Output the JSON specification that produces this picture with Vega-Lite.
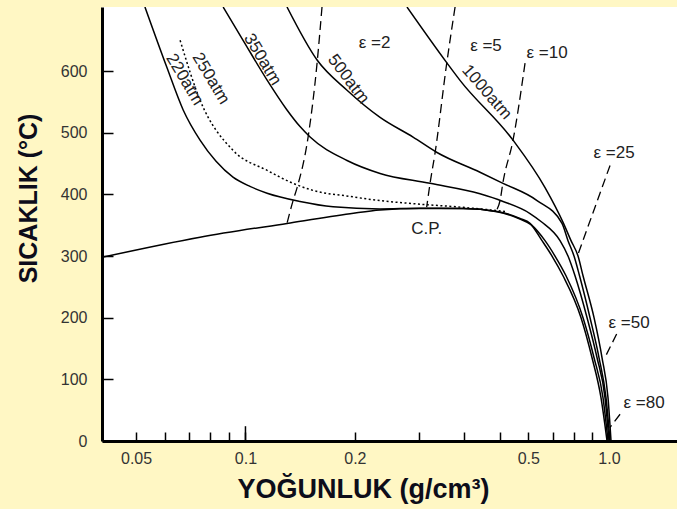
{
  "$schema": "https://vega.github.io/schema/vega-lite/v6.json",
  "width": 575,
  "height": 434,
  "autosize": "none",
  "padding": {"left": 102, "top": 7, "right": 0, "bottom": 68},
  "background": "#fff7c4",
  "config": {
    "view": {"fill": "white", "stroke": null},
    "font": "Liberation Sans",
    "axis": {"grid": false}
  },
  "datasets": {
    "curves": [
      {"s": "sat", "i": 0, "d": 0.0403, "t": 298},
      {"s": "sat", "i": 1, "d": 0.075, "t": 330.6},
      {"s": "sat", "i": 2, "d": 0.1301, "t": 353},
      {"s": "sat", "i": 3, "d": 0.194, "t": 368.6},
      {"s": "sat", "i": 4, "d": 0.2346, "t": 374.8},
      {"s": "sat", "i": 5, "d": 0.302, "t": 377.2},
      {"s": "sat", "i": 6, "d": 0.3969, "t": 377},
      {"s": "sat", "i": 7, "d": 0.4922, "t": 372.4},
      {"s": "sat", "i": 8, "d": 0.5693, "t": 361},
      {"s": "sat", "i": 9, "d": 0.6065, "t": 353},
      {"s": "sat", "i": 10, "d": 0.6544, "t": 325},
      {"s": "sat", "i": 11, "d": 0.6972, "t": 300},
      {"s": "sat", "i": 12, "d": 0.7475, "t": 268},
      {"s": "sat", "i": 13, "d": 0.8379, "t": 200},
      {"s": "sat", "i": 14, "d": 0.8984, "t": 135},
      {"s": "sat", "i": 15, "d": 0.9511, "t": 70},
      {"s": "sat", "i": 16, "d": 0.988, "t": 0},

      {"s": "220atm", "i": 0, "d": 0.0529, "t": 704},
      {"s": "220atm", "i": 1, "d": 0.0607, "t": 607},
      {"s": "220atm", "i": 2, "d": 0.0674, "t": 537},
      {"s": "220atm", "i": 3, "d": 0.075, "t": 488},
      {"s": "220atm", "i": 4, "d": 0.083, "t": 453.7},
      {"s": "220atm", "i": 5, "d": 0.0924, "t": 428},
      {"s": "220atm", "i": 6, "d": 0.1029, "t": 413},
      {"s": "220atm", "i": 7, "d": 0.1147, "t": 402},
      {"s": "220atm", "i": 8, "d": 0.1413, "t": 388.6},
      {"s": "220atm", "i": 9, "d": 0.1742, "t": 380},
      {"s": "220atm", "i": 10, "d": 0.2346, "t": 376.5},
      {"s": "220atm", "i": 11, "d": 0.302, "t": 377.5},
      {"s": "220atm", "i": 12, "d": 0.3969, "t": 377.3},
      {"s": "220atm", "i": 13, "d": 0.4922, "t": 372},
      {"s": "220atm", "i": 14, "d": 0.5693, "t": 360},
      {"s": "220atm", "i": 15, "d": 0.6104, "t": 351},
      {"s": "220atm", "i": 16, "d": 0.667, "t": 325},
      {"s": "220atm", "i": 17, "d": 0.7106, "t": 300},
      {"s": "220atm", "i": 18, "d": 0.7618, "t": 268},
      {"s": "220atm", "i": 19, "d": 0.8486, "t": 200},
      {"s": "220atm", "i": 20, "d": 0.9099, "t": 135},
      {"s": "220atm", "i": 21, "d": 0.9632, "t": 70},
      {"s": "220atm", "i": 22, "d": 0.9942, "t": 0},

      {"s": "350atm", "i": 0, "d": 0.0868, "t": 704},
      {"s": "350atm", "i": 1, "d": 0.0985, "t": 650},
      {"s": "350atm", "i": 2, "d": 0.1147, "t": 585.4},
      {"s": "350atm", "i": 3, "d": 0.1301, "t": 537},
      {"s": "350atm", "i": 4, "d": 0.1413, "t": 510},
      {"s": "350atm", "i": 5, "d": 0.1506, "t": 493},
      {"s": "350atm", "i": 6, "d": 0.1903, "t": 455},
      {"s": "350atm", "i": 7, "d": 0.2346, "t": 434},
      {"s": "350atm", "i": 8, "d": 0.322, "t": 418},
      {"s": "350atm", "i": 9, "d": 0.4418, "t": 401},
      {"s": "350atm", "i": 10, "d": 0.5112, "t": 388.6},
      {"s": "350atm", "i": 11, "d": 0.6065, "t": 369},
      {"s": "350atm", "i": 12, "d": 0.6503, "t": 356},
      {"s": "350atm", "i": 13, "d": 0.7335, "t": 325},
      {"s": "350atm", "i": 14, "d": 0.7716, "t": 300},
      {"s": "350atm", "i": 15, "d": 0.8066, "t": 268},
      {"s": "350atm", "i": 16, "d": 0.8706, "t": 200},
      {"s": "350atm", "i": 17, "d": 0.9274, "t": 135},
      {"s": "350atm", "i": 18, "d": 0.9755, "t": 70},
      {"s": "350atm", "i": 19, "d": 1.0006, "t": 0},

      {"s": "500atm", "i": 0, "d": 0.1301, "t": 704},
      {"s": "500atm", "i": 1, "d": 0.1574, "t": 618},
      {"s": "500atm", "i": 2, "d": 0.1903, "t": 569},
      {"s": "500atm", "i": 3, "d": 0.2346, "t": 525},
      {"s": "500atm", "i": 4, "d": 0.2891, "t": 493},
      {"s": "500atm", "i": 5, "d": 0.3365, "t": 468},
      {"s": "500atm", "i": 6, "d": 0.4418, "t": 436},
      {"s": "500atm", "i": 7, "d": 0.5112, "t": 418},
      {"s": "500atm", "i": 8, "d": 0.6341, "t": 390},
      {"s": "500atm", "i": 9, "d": 0.7428, "t": 353},
      {"s": "500atm", "i": 10, "d": 0.7716, "t": 325},
      {"s": "500atm", "i": 11, "d": 0.8015, "t": 300},
      {"s": "500atm", "i": 12, "d": 0.83, "t": 268},
      {"s": "500atm", "i": 13, "d": 0.887, "t": 200},
      {"s": "500atm", "i": 14, "d": 0.9392, "t": 135},
      {"s": "500atm", "i": 15, "d": 0.9817, "t": 70},
      {"s": "500atm", "i": 16, "d": 1.0069, "t": 0},

      {"s": "1000atm", "i": 0, "d": 0.2782, "t": 704},
      {"s": "1000atm", "i": 1, "d": 0.3586, "t": 613},
      {"s": "1000atm", "i": 2, "d": 0.3893, "t": 585},
      {"s": "1000atm", "i": 3, "d": 0.5446, "t": 488},
      {"s": "1000atm", "i": 4, "d": 0.6671, "t": 411},
      {"s": "1000atm", "i": 5, "d": 0.7499, "t": 353},
      {"s": "1000atm", "i": 6, "d": 0.7864, "t": 325},
      {"s": "1000atm", "i": 7, "d": 0.8222, "t": 300},
      {"s": "1000atm", "i": 8, "d": 0.8486, "t": 268},
      {"s": "1000atm", "i": 9, "d": 0.9099, "t": 200},
      {"s": "1000atm", "i": 10, "d": 0.9572, "t": 135},
      {"s": "1000atm", "i": 11, "d": 0.9942, "t": 70},
      {"s": "1000atm", "i": 12, "d": 1.0133, "t": 0},

      {"s": "250atm", "i": 0, "d": 0.0661, "t": 650},
      {"s": "250atm", "i": 1, "d": 0.075, "t": 553},
      {"s": "250atm", "i": 2, "d": 0.0924, "t": 471.5},
      {"s": "250atm", "i": 3, "d": 0.1147, "t": 439},
      {"s": "250atm", "i": 4, "d": 0.1352, "t": 418},
      {"s": "250atm", "i": 5, "d": 0.1534, "t": 406.5},
      {"s": "250atm", "i": 6, "d": 0.194, "t": 396.7},
      {"s": "250atm", "i": 7, "d": 0.2346, "t": 390},
      {"s": "250atm", "i": 8, "d": 0.2891, "t": 385},
      {"s": "250atm", "i": 9, "d": 0.3969, "t": 379},
      {"s": "250atm", "i": 10, "d": 0.5177, "t": 372.4}
    ],
    "eps": [
      {"e": "2", "i": 0, "d": 0.1624, "t": 704},
      {"e": "2", "i": 1, "d": 0.1574, "t": 613},
      {"e": "2", "i": 2, "d": 0.1487, "t": 493},
      {"e": "2", "i": 3, "d": 0.1387, "t": 411},
      {"e": "2", "i": 4, "d": 0.1352, "t": 390},
      {"e": "2", "i": 5, "d": 0.1301, "t": 353},
      {"e": "5", "i": 0, "d": 0.3773, "t": 704},
      {"e": "5", "i": 1, "d": 0.3579, "t": 613},
      {"e": "5", "i": 2, "d": 0.3323, "t": 467},
      {"e": "5", "i": 3, "d": 0.322, "t": 418},
      {"e": "5", "i": 4, "d": 0.3152, "t": 379.5},
      {"e": "10", "i": 0, "d": 0.5877, "t": 613},
      {"e": "10", "i": 1, "d": 0.5446, "t": 488},
      {"e": "10", "i": 2, "d": 0.5112, "t": 420},
      {"e": "10", "i": 3, "d": 0.5017, "t": 390},
      {"e": "10", "i": 4, "d": 0.4922, "t": 375.6},
      {"e": "25", "i": 0, "d": 1.007, "t": 447},
      {"e": "25", "i": 1, "d": 0.8222, "t": 303},
      {"e": "50", "i": 0, "d": 1.05, "t": 173.5},
      {"e": "50", "i": 1, "d": 0.975, "t": 135.4},
      {"e": "80", "i": 0, "d": 1.073, "t": 43.4},
      {"e": "80", "i": 1, "d": 1.0055, "t": 21.6}
    ],
    "labels": [
      {"txt": "ε =2", "d": 0.2265, "t": 645.5},
      {"txt": "ε =5", "d": 0.4589, "t": 640.6},
      {"txt": "ε =10", "d": 0.6756, "t": 629},
      {"txt": "ε =25", "d": 1.033, "t": 466.7},
      {"txt": "ε =50", "d": 1.136, "t": 192},
      {"txt": "ε =80", "d": 1.249, "t": 61.8},
      {"txt": "C.P.", "d": 0.3152, "t": 344.2}
    ],
    "plabels": [
      {"txt": "220atm", "g": "a", "d": 0.068, "t": 586.5},
      {"txt": "250atm", "g": "a", "d": 0.0803, "t": 588},
      {"txt": "350atm", "g": "a", "d": 0.1114, "t": 619},
      {"txt": "500atm", "g": "b", "d": 0.1919, "t": 587},
      {"txt": "1000atm", "g": "c", "d": 0.4611, "t": 566}
    ],
    "longtick": [{"d": 0.1}]
  },
  "layer": [
    {
      "data": {"name": "curves"},
      "transform": [{"filter": "datum.s != '250atm'"}],
      "mark": {"type": "line", "interpolate": "monotone", "color": "black", "strokeWidth": 1.5, "clip": true},
      "encoding": {
        "x": {
          "field": "d", "type": "quantitative",
          "scale": {"type": "log", "domain": [0.0403, 1.539], "nice": false},
          "axis": {
            "title": "YOĞUNLUK (g/cm³)",
            "values": [0.05, 0.06, 0.07, 0.08, 0.09, 0.1, 0.2, 0.3, 0.4, 0.5, 0.6, 0.7, 0.8, 0.9, 1.0],
            "labelExpr": "datum.value == 0.05 ? '0.05' : datum.value == 0.1 ? '0.1' : datum.value == 0.2 ? '0.2' : datum.value == 0.6 ? '0.5' : datum.value == 1 ? '1.0' : ''",
            "labelOverlap": false,
            "labelFlush": false,
            "labelFontSize": 16,
            "labelColor": "#333",
            "labelPadding": 18,
            "tickSize": -9,
            "tickWidth": 1.5,
            "tickColor": "black",
            "domainColor": "black",
            "domainWidth": 3,
            "titleFontSize": 27,
            "titleFontWeight": "bold",
            "titleColor": "#0d0d1a",
            "titleX": 261,
            "titleY": 56,
            "titleAlign": "center",
            "titleBaseline": "alphabetic"
          }
        },
        "y": {
          "field": "t", "type": "quantitative",
          "scale": {"domain": [0, 704], "nice": false, "zero": false},
          "axis": {
            "title": "SICAKLIK (°C)",
            "values": [0, 100, 200, 300, 400, 500, 600],
            "labelFontSize": 16,
            "labelColor": "#333",
            "labelPadding": 26,
            "tickSize": -11,
            "tickWidth": 1.5,
            "tickColor": "black",
            "domainColor": "black",
            "domainWidth": 3,
            "titleFontSize": 25,
            "titleFontWeight": "bold",
            "titleColor": "#0d0d1a",
            "titleX": -74,
            "titleY": 191,
            "titleAngle": -90,
            "titleAlign": "center",
            "titleBaseline": "middle"
          }
        },
        "detail": {"field": "s"},
        "order": {"field": "i"}
      }
    },
    {
      "data": {"name": "curves"},
      "transform": [{"filter": "datum.s == '250atm'"}],
      "mark": {"type": "line", "interpolate": "monotone", "color": "black", "strokeWidth": 1.5, "strokeDash": [2, 2.5], "clip": true},
      "encoding": {
        "x": {"field": "d", "type": "quantitative"},
        "y": {"field": "t", "type": "quantitative"},
        "order": {"field": "i"}
      }
    },
    {
      "data": {"name": "eps"},
      "mark": {"type": "line", "interpolate": "monotone", "color": "black", "strokeWidth": 1.3, "strokeDash": [9, 5], "clip": true},
      "encoding": {
        "x": {"field": "d", "type": "quantitative"},
        "y": {"field": "t", "type": "quantitative"},
        "detail": {"field": "e"},
        "order": {"field": "i"}
      }
    },
    {
      "mark": {"type": "rule", "color": "black", "strokeWidth": 1.5},
      "encoding": {"y": {"datum": 704}}
    },
    {
      "data": {"name": "longtick"},
      "mark": {"type": "rule", "color": "black", "strokeWidth": 1.5},
      "encoding": {
        "x": {"field": "d", "type": "quantitative"},
        "y": {"datum": 0},
        "y2": {"datum": 24}
      }
    },
    {
      "data": {"name": "labels"},
      "mark": {"type": "text", "fontSize": 17, "color": "#222", "align": "center", "baseline": "middle"},
      "encoding": {
        "x": {"field": "d", "type": "quantitative"},
        "y": {"field": "t", "type": "quantitative"},
        "text": {"field": "txt"}
      }
    },
    {
      "data": {"name": "plabels"},
      "transform": [{"filter": "datum.g == 'a'"}],
      "mark": {"type": "text", "fontSize": 17, "color": "#222", "align": "center", "baseline": "middle", "angle": 59},
      "encoding": {
        "x": {"field": "d", "type": "quantitative"},
        "y": {"field": "t", "type": "quantitative"},
        "text": {"field": "txt"}
      }
    },
    {
      "data": {"name": "plabels"},
      "transform": [{"filter": "datum.g == 'b'"}],
      "mark": {"type": "text", "fontSize": 17, "color": "#222", "align": "center", "baseline": "middle", "angle": 53},
      "encoding": {
        "x": {"field": "d", "type": "quantitative"},
        "y": {"field": "t", "type": "quantitative"},
        "text": {"field": "txt"}
      }
    },
    {
      "data": {"name": "plabels"},
      "transform": [{"filter": "datum.g == 'c'"}],
      "mark": {"type": "text", "fontSize": 17, "color": "#222", "align": "center", "baseline": "middle", "angle": 49},
      "encoding": {
        "x": {"field": "d", "type": "quantitative"},
        "y": {"field": "t", "type": "quantitative"},
        "text": {"field": "txt"}
      }
    }
  ]
}
